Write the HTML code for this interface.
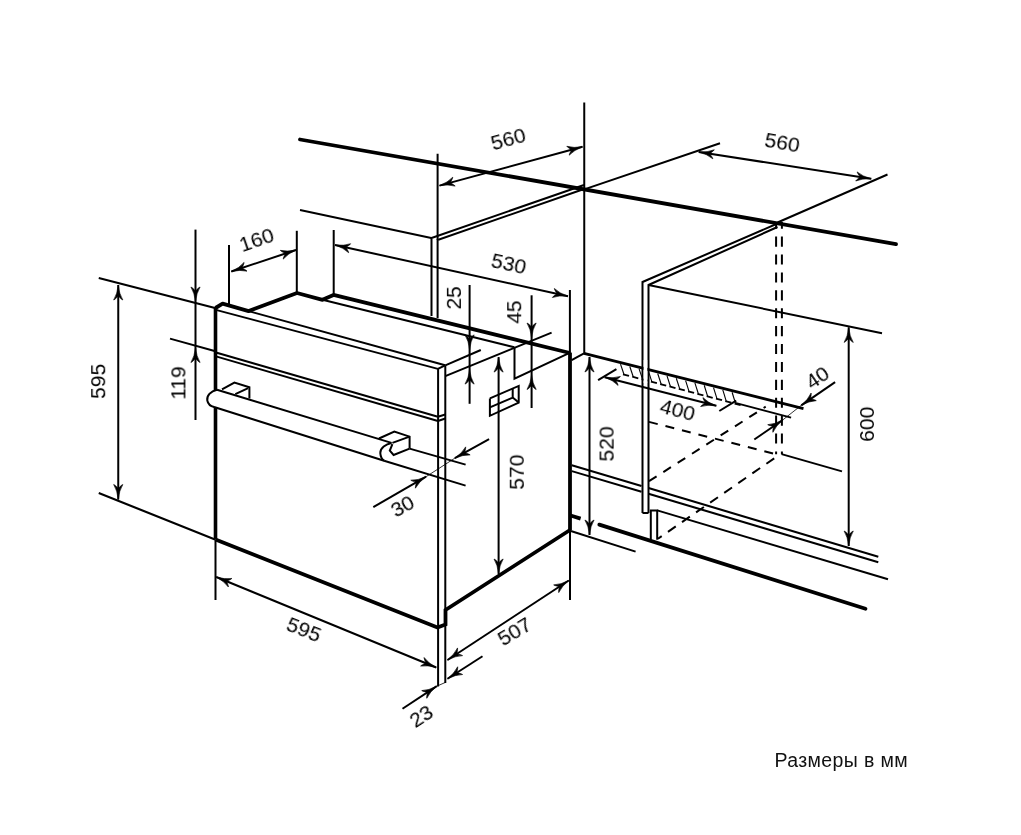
<!DOCTYPE html>
<html><head><meta charset="utf-8"><style>
html,body{margin:0;padding:0;background:#fff;}
svg{display:block;}
text{font-family:"Liberation Sans",sans-serif;fill:#000;stroke:none;will-change:transform;}
</style></head><body>
<svg width="1021" height="835" viewBox="0 0 1021 835">
<rect width="1021" height="835" fill="#fff"/>
<g stroke="#000" stroke-linecap="butt">
<line x1="300.00" y1="139.50" x2="896.00" y2="244.20" stroke-width="3.8" stroke-linecap="round"/>
<line x1="584.25" y1="102.50" x2="584.25" y2="353.40" stroke-width="2.0" />
<line x1="300.00" y1="210.00" x2="431.25" y2="238.00" stroke-width="2.0" />
<polyline points="431.50,316.00 431.50,238.00 584.00,185.00" fill="none" stroke-width="2.0" />
<polyline points="437.60,318.00 437.60,240.00 584.00,189.00" fill="none" stroke-width="2.0" />
<line x1="437.60" y1="153.75" x2="437.60" y2="240.00" stroke-width="2.0" />
<line x1="439.50" y1="185.60" x2="582.50" y2="146.80" stroke-width="2.0" />
<path d="M0,0 Q-9,-0.9 -15.0,-4.6 L-14.4,-3.4999999999999996 Q-12.5,-1.2 -11,0 Q-12.5,1.2 -14.4,3.4999999999999996 L-15.0,4.6 Q-9,0.9 0,0 Z" transform="translate(439.50,185.60) rotate(164.82)" fill="#000" stroke="#000" stroke-width="0.6"/>
<path d="M0,0 Q-9,-0.9 -15.0,-4.6 L-14.4,-3.4999999999999996 Q-12.5,-1.2 -11,0 Q-12.5,1.2 -14.4,3.4999999999999996 L-15.0,4.6 Q-9,0.9 0,0 Z" transform="translate(582.50,146.80) rotate(-15.18)" fill="#000" stroke="#000" stroke-width="0.6"/>
<text x="0" y="0" transform="translate(508.20,139.10) rotate(-15.30) scale(1.03,1)" font-size="20.5" text-anchor="middle" dominant-baseline="central">560</text>
<line x1="584.25" y1="189.40" x2="720.00" y2="143.25" stroke-width="2.0" />
<line x1="698.75" y1="152.00" x2="871.25" y2="178.75" stroke-width="2.0" />
<path d="M0,0 Q-9,-0.9 -15.0,-4.6 L-14.4,-3.4999999999999996 Q-12.5,-1.2 -11,0 Q-12.5,1.2 -14.4,3.4999999999999996 L-15.0,4.6 Q-9,0.9 0,0 Z" transform="translate(698.75,152.00) rotate(-171.19)" fill="#000" stroke="#000" stroke-width="0.6"/>
<path d="M0,0 Q-9,-0.9 -15.0,-4.6 L-14.4,-3.4999999999999996 Q-12.5,-1.2 -11,0 Q-12.5,1.2 -14.4,3.4999999999999996 L-15.0,4.6 Q-9,0.9 0,0 Z" transform="translate(871.25,178.75) rotate(8.81)" fill="#000" stroke="#000" stroke-width="0.6"/>
<text x="0" y="0" transform="translate(782.20,142.60) rotate(10.00) scale(1.03,1)" font-size="20.5" text-anchor="middle" dominant-baseline="central">560</text>
<polyline points="642.50,513.00 642.50,282.00 777.50,223.50" fill="none" stroke-width="2.0" />
<polyline points="648.50,513.00 648.50,285.00 777.50,227.00" fill="none" stroke-width="2.0" />
<line x1="642.50" y1="513.00" x2="648.50" y2="513.00" stroke-width="2.0" />
<line x1="777.50" y1="222.50" x2="887.50" y2="174.50" stroke-width="2.0" />
<line x1="648.50" y1="285.00" x2="882.00" y2="333.20" stroke-width="2.0" />
<line x1="776.10" y1="222.00" x2="776.10" y2="454.30" stroke-width="2.0" stroke-dasharray="10.1 7.8" stroke-dashoffset="3.3"/>
<line x1="781.90" y1="222.00" x2="781.90" y2="454.30" stroke-width="2.0" stroke-dasharray="10.1 7.8" stroke-dashoffset="3.3"/>
<polyline points="650.80,539.80 650.80,510.40 657.20,510.40 657.20,539.80" fill="none" stroke-width="2.0" />
<line x1="215.50" y1="307.00" x2="215.50" y2="539.50" stroke-width="3.6" />
<polyline points="215.50,308.00 222.60,303.70 248.60,311.10 297.00,293.00 322.50,299.80 333.50,294.90 570.00,353.00" fill="none" stroke-width="3.8" stroke-linejoin="round"/>
<line x1="229.00" y1="245.00" x2="229.00" y2="305.70" stroke-width="2.0" />
<line x1="296.80" y1="230.80" x2="296.80" y2="293.00" stroke-width="2.0" />
<line x1="333.70" y1="230.00" x2="333.70" y2="294.50" stroke-width="2.0" />
<line x1="231.30" y1="271.50" x2="296.00" y2="250.00" stroke-width="2.0" />
<path d="M0,0 Q-9,-0.9 -15.0,-4.6 L-14.4,-3.4999999999999996 Q-12.5,-1.2 -11,0 Q-12.5,1.2 -14.4,3.4999999999999996 L-15.0,4.6 Q-9,0.9 0,0 Z" transform="translate(231.30,271.50) rotate(161.62)" fill="#000" stroke="#000" stroke-width="0.6"/>
<path d="M0,0 Q-9,-0.9 -15.0,-4.6 L-14.4,-3.4999999999999996 Q-12.5,-1.2 -11,0 Q-12.5,1.2 -14.4,3.4999999999999996 L-15.0,4.6 Q-9,0.9 0,0 Z" transform="translate(296.00,250.00) rotate(-18.38)" fill="#000" stroke="#000" stroke-width="0.6"/>
<text x="0" y="0" transform="translate(256.50,239.90) rotate(-19.00) scale(1.03,1)" font-size="20.5" text-anchor="middle" dominant-baseline="central">160</text>
<line x1="335.00" y1="245.00" x2="568.00" y2="296.20" stroke-width="2.0" />
<path d="M0,0 Q-9,-0.9 -15.0,-4.6 L-14.4,-3.4999999999999996 Q-12.5,-1.2 -11,0 Q-12.5,1.2 -14.4,3.4999999999999996 L-15.0,4.6 Q-9,0.9 0,0 Z" transform="translate(335.00,245.00) rotate(-167.61)" fill="#000" stroke="#000" stroke-width="0.6"/>
<path d="M0,0 Q-9,-0.9 -15.0,-4.6 L-14.4,-3.4999999999999996 Q-12.5,-1.2 -11,0 Q-12.5,1.2 -14.4,3.4999999999999996 L-15.0,4.6 Q-9,0.9 0,0 Z" transform="translate(568.00,296.20) rotate(12.39)" fill="#000" stroke="#000" stroke-width="0.6"/>
<line x1="569.90" y1="290.00" x2="569.90" y2="353.00" stroke-width="2.0" />
<text x="0" y="0" transform="translate(508.75,263.75) rotate(12.40) scale(1.03,1)" font-size="20.5" text-anchor="middle" dominant-baseline="central">530</text>
<line x1="248.60" y1="311.10" x2="445.10" y2="365.30" stroke-width="2.0" />
<line x1="216.80" y1="310.10" x2="437.90" y2="368.90" stroke-width="2.0" />
<line x1="437.90" y1="368.90" x2="445.10" y2="365.30" stroke-width="2.0" />
<line x1="216.80" y1="352.70" x2="437.90" y2="416.80" stroke-width="2.0" />
<line x1="216.80" y1="356.60" x2="437.90" y2="421.00" stroke-width="2.0" />
<line x1="437.90" y1="416.80" x2="445.30" y2="414.50" stroke-width="2.0" />
<line x1="437.90" y1="421.00" x2="445.30" y2="418.50" stroke-width="2.0" />
<line x1="438.10" y1="368.90" x2="438.10" y2="686.50" stroke-width="2.0" />
<line x1="445.30" y1="365.30" x2="445.30" y2="683.00" stroke-width="2.0" />
<line x1="322.50" y1="299.80" x2="514.30" y2="347.30" stroke-width="2.0" />
<polyline points="514.50,347.00 514.50,378.70 569.60,352.90" fill="none" stroke-width="2.0" />
<line x1="445.30" y1="376.10" x2="551.60" y2="332.60" stroke-width="2.0" />
<line x1="445.30" y1="365.30" x2="480.80" y2="350.00" stroke-width="2.0" />
<line x1="570.00" y1="352.60" x2="570.00" y2="530.00" stroke-width="3.8" />
<line x1="570.00" y1="530.00" x2="570.00" y2="600.00" stroke-width="2.0" />
<polyline points="215.50,539.50 437.50,627.50 445.50,624.50 445.50,610.00 570.00,530.00" fill="none" stroke-width="3.8" stroke-linejoin="miter"/>
<line x1="98.75" y1="278.00" x2="215.00" y2="308.00" stroke-width="2.0" />
<line x1="98.75" y1="493.00" x2="215.00" y2="539.50" stroke-width="2.0" />
<line x1="118.25" y1="285.00" x2="118.25" y2="499.50" stroke-width="2.0" />
<path d="M0,0 Q-9,-0.9 -15.0,-4.6 L-14.4,-3.4999999999999996 Q-12.5,-1.2 -11,0 Q-12.5,1.2 -14.4,3.4999999999999996 L-15.0,4.6 Q-9,0.9 0,0 Z" transform="translate(118.25,285.00) rotate(-90.00)" fill="#000" stroke="#000" stroke-width="0.6"/>
<path d="M0,0 Q-9,-0.9 -15.0,-4.6 L-14.4,-3.4999999999999996 Q-12.5,-1.2 -11,0 Q-12.5,1.2 -14.4,3.4999999999999996 L-15.0,4.6 Q-9,0.9 0,0 Z" transform="translate(118.25,499.50) rotate(90.00)" fill="#000" stroke="#000" stroke-width="0.6"/>
<text x="0" y="0" transform="translate(98.20,381.40) rotate(-90.00) scale(1.03,1)" font-size="20.5" text-anchor="middle" dominant-baseline="central">595</text>
<line x1="195.50" y1="229.60" x2="195.50" y2="420.00" stroke-width="2.0" />
<path d="M0,0 Q-9,-0.9 -15.0,-4.6 L-14.4,-3.4999999999999996 Q-12.5,-1.2 -11,0 Q-12.5,1.2 -14.4,3.4999999999999996 L-15.0,4.6 Q-9,0.9 0,0 Z" transform="translate(195.50,302.00) rotate(90.00)" fill="#000" stroke="#000" stroke-width="0.6"/>
<path d="M0,0 Q-9,-0.9 -15.0,-4.6 L-14.4,-3.4999999999999996 Q-12.5,-1.2 -11,0 Q-12.5,1.2 -14.4,3.4999999999999996 L-15.0,4.6 Q-9,0.9 0,0 Z" transform="translate(195.50,347.50) rotate(-90.00)" fill="#000" stroke="#000" stroke-width="0.6"/>
<line x1="170.00" y1="338.60" x2="215.50" y2="351.20" stroke-width="2.0" />
<text x="0" y="0" transform="translate(178.40,383.00) rotate(-90.00) scale(1.03,1)" font-size="20.5" text-anchor="middle" dominant-baseline="central">119</text>
<line x1="215.50" y1="539.50" x2="215.50" y2="600.00" stroke-width="2.0" />
<line x1="216.25" y1="577.00" x2="436.25" y2="667.50" stroke-width="2.0" />
<path d="M0,0 Q-9,-0.9 -15.0,-4.6 L-14.4,-3.4999999999999996 Q-12.5,-1.2 -11,0 Q-12.5,1.2 -14.4,3.4999999999999996 L-15.0,4.6 Q-9,0.9 0,0 Z" transform="translate(216.25,577.00) rotate(-157.64)" fill="#000" stroke="#000" stroke-width="0.6"/>
<path d="M0,0 Q-9,-0.9 -15.0,-4.6 L-14.4,-3.4999999999999996 Q-12.5,-1.2 -11,0 Q-12.5,1.2 -14.4,3.4999999999999996 L-15.0,4.6 Q-9,0.9 0,0 Z" transform="translate(436.25,667.50) rotate(22.36)" fill="#000" stroke="#000" stroke-width="0.6"/>
<text x="0" y="0" transform="translate(303.90,629.60) rotate(21.60) scale(1.03,1)" font-size="20.5" text-anchor="middle" dominant-baseline="central">595</text>
<line x1="447.50" y1="660.00" x2="568.75" y2="580.50" stroke-width="2.0" />
<path d="M0,0 Q-9,-0.9 -15.0,-4.6 L-14.4,-3.4999999999999996 Q-12.5,-1.2 -11,0 Q-12.5,1.2 -14.4,3.4999999999999996 L-15.0,4.6 Q-9,0.9 0,0 Z" transform="translate(447.50,660.00) rotate(146.75)" fill="#000" stroke="#000" stroke-width="0.6"/>
<path d="M0,0 Q-9,-0.9 -15.0,-4.6 L-14.4,-3.4999999999999996 Q-12.5,-1.2 -11,0 Q-12.5,1.2 -14.4,3.4999999999999996 L-15.0,4.6 Q-9,0.9 0,0 Z" transform="translate(568.75,580.50) rotate(-33.25)" fill="#000" stroke="#000" stroke-width="0.6"/>
<text x="0" y="0" transform="translate(514.50,631.60) rotate(-31.00) scale(1.03,1)" font-size="20.5" text-anchor="middle" dominant-baseline="central">507</text>
<line x1="402.50" y1="708.75" x2="436.80" y2="686.20" stroke-width="2.0" />
<path d="M0,0 Q-9,-0.9 -15.0,-4.6 L-14.4,-3.4999999999999996 Q-12.5,-1.2 -11,0 Q-12.5,1.2 -14.4,3.4999999999999996 L-15.0,4.6 Q-9,0.9 0,0 Z" transform="translate(436.80,686.20) rotate(-33.32)" fill="#000" stroke="#000" stroke-width="0.6"/>
<line x1="436.80" y1="686.20" x2="445.90" y2="682.20" stroke-width="0.8" />
<line x1="482.50" y1="656.25" x2="447.50" y2="678.75" stroke-width="2.0" />
<path d="M0,0 Q-9,-0.9 -15.0,-4.6 L-14.4,-3.4999999999999996 Q-12.5,-1.2 -11,0 Q-12.5,1.2 -14.4,3.4999999999999996 L-15.0,4.6 Q-9,0.9 0,0 Z" transform="translate(447.50,678.75) rotate(147.26)" fill="#000" stroke="#000" stroke-width="0.6"/>
<text x="0" y="0" transform="translate(421.25,716.25) rotate(-33.00) scale(1.03,1)" font-size="20.5" text-anchor="middle" dominant-baseline="central">23</text>
<line x1="469.60" y1="285.00" x2="469.60" y2="403.80" stroke-width="2.0" />
<path d="M0,0 Q-9,-0.9 -15.0,-4.6 L-14.4,-3.4999999999999996 Q-12.5,-1.2 -11,0 Q-12.5,1.2 -14.4,3.4999999999999996 L-15.0,4.6 Q-9,0.9 0,0 Z" transform="translate(469.60,349.90) rotate(90.00)" fill="#000" stroke="#000" stroke-width="0.6"/>
<path d="M0,0 Q-9,-0.9 -15.0,-4.6 L-14.4,-3.4999999999999996 Q-12.5,-1.2 -11,0 Q-12.5,1.2 -14.4,3.4999999999999996 L-15.0,4.6 Q-9,0.9 0,0 Z" transform="translate(469.60,369.10) rotate(-90.00)" fill="#000" stroke="#000" stroke-width="0.6"/>
<text x="0" y="0" transform="translate(453.90,297.90) rotate(-90.00) scale(1.03,1)" font-size="20.5" text-anchor="middle" dominant-baseline="central">25</text>
<line x1="531.60" y1="295.30" x2="531.60" y2="408.00" stroke-width="2.0" />
<path d="M0,0 Q-9,-0.9 -15.0,-4.6 L-14.4,-3.4999999999999996 Q-12.5,-1.2 -11,0 Q-12.5,1.2 -14.4,3.4999999999999996 L-15.0,4.6 Q-9,0.9 0,0 Z" transform="translate(531.60,338.00) rotate(90.00)" fill="#000" stroke="#000" stroke-width="0.6"/>
<path d="M0,0 Q-9,-0.9 -15.0,-4.6 L-14.4,-3.4999999999999996 Q-12.5,-1.2 -11,0 Q-12.5,1.2 -14.4,3.4999999999999996 L-15.0,4.6 Q-9,0.9 0,0 Z" transform="translate(531.60,374.50) rotate(-90.00)" fill="#000" stroke="#000" stroke-width="0.6"/>
<text x="0" y="0" transform="translate(514.20,312.10) rotate(-90.00) scale(1.03,1)" font-size="20.5" text-anchor="middle" dominant-baseline="central">45</text>
<line x1="498.60" y1="357.10" x2="498.60" y2="574.00" stroke-width="2.0" />
<path d="M0,0 Q-9,-0.9 -15.0,-4.6 L-14.4,-3.4999999999999996 Q-12.5,-1.2 -11,0 Q-12.5,1.2 -14.4,3.4999999999999996 L-15.0,4.6 Q-9,0.9 0,0 Z" transform="translate(498.60,357.10) rotate(-90.00)" fill="#000" stroke="#000" stroke-width="0.6"/>
<path d="M0,0 Q-9,-0.9 -15.0,-4.6 L-14.4,-3.4999999999999996 Q-12.5,-1.2 -11,0 Q-12.5,1.2 -14.4,3.4999999999999996 L-15.0,4.6 Q-9,0.9 0,0 Z" transform="translate(498.60,574.00) rotate(90.00)" fill="#000" stroke="#000" stroke-width="0.6"/>
<text x="0" y="0" transform="translate(516.80,472.20) rotate(-90.00) scale(1.03,1)" font-size="20.5" text-anchor="middle" dominant-baseline="central">570</text>
<polyline points="489.90,398.40 518.70,385.90 518.70,402.60 489.90,415.80 489.90,398.40" fill="none" stroke-width="2.0" />
<polyline points="489.90,407.40 512.70,397.60 512.70,388.80" fill="none" stroke-width="2.0" />
<line x1="512.70" y1="397.60" x2="518.70" y2="402.60" stroke-width="2.0" />
<path d="M217,389.7 L391.5,442.9 L384.1,460.7 L214.1,407 C211,406.3 208,404 207.3,400.5 C206.5,396 210.5,391 217,389.7 Z" fill="#fff" stroke="none"/>
<path d="M217,389.7 L391.5,442.9 M214.1,407 L384.1,460.7 M217,389.7 C210.5,391 206.5,396 207.3,400.5 C208,404 211,406.3 214.1,407" fill="none" stroke-width="2.0"/>
<polyline points="222.00,389.40 234.40,382.60 249.40,387.30 249.40,398.50" fill="none" stroke-width="2.0" />
<line x1="235.30" y1="394.10" x2="248.20" y2="388.20" stroke-width="2.0" />
<polyline points="379.00,438.50 394.30,431.50 409.60,436.60 409.60,448.60" fill="none" stroke-width="2.0" />
<line x1="392.40" y1="442.90" x2="409.60" y2="436.60" stroke-width="2.0" />
<path d="M391.5,442.9 C386,444 380,448 380.3,453.1 C380.6,457 382,459.5 384.1,460.7 M392.4,444.2 L389.8,450.6 L393.6,455 L409.6,448.6" fill="none" stroke-width="2.0"/>
<line x1="409.60" y1="448.60" x2="465.60" y2="464.60" stroke-width="2.0" />
<line x1="384.10" y1="460.70" x2="465.60" y2="485.60" stroke-width="2.0" />
<line x1="489.10" y1="439.10" x2="454.80" y2="458.20" stroke-width="2.0" />
<path d="M0,0 Q-9,-0.9 -15.0,-4.6 L-14.4,-3.4999999999999996 Q-12.5,-1.2 -11,0 Q-12.5,1.2 -14.4,3.4999999999999996 L-15.0,4.6 Q-9,0.9 0,0 Z" transform="translate(454.80,458.20) rotate(150.89)" fill="#000" stroke="#000" stroke-width="0.6"/>
<line x1="373.30" y1="507.20" x2="426.10" y2="476.70" stroke-width="2.0" />
<path d="M0,0 Q-9,-0.9 -15.0,-4.6 L-14.4,-3.4999999999999996 Q-12.5,-1.2 -11,0 Q-12.5,1.2 -14.4,3.4999999999999996 L-15.0,4.6 Q-9,0.9 0,0 Z" transform="translate(426.10,476.70) rotate(-30.01)" fill="#000" stroke="#000" stroke-width="0.6"/>
<line x1="426.10" y1="476.70" x2="454.80" y2="458.20" stroke-width="0.8" />
<text x="0" y="0" transform="translate(402.50,506.25) rotate(-29.00) scale(1.03,1)" font-size="20.5" text-anchor="middle" dominant-baseline="central">30</text>
<line x1="589.50" y1="357.00" x2="589.50" y2="535.00" stroke-width="2.0" />
<path d="M0,0 Q-9,-0.9 -15.0,-4.6 L-14.4,-3.4999999999999996 Q-12.5,-1.2 -11,0 Q-12.5,1.2 -14.4,3.4999999999999996 L-15.0,4.6 Q-9,0.9 0,0 Z" transform="translate(589.50,357.00) rotate(-90.00)" fill="#000" stroke="#000" stroke-width="0.6"/>
<path d="M0,0 Q-9,-0.9 -15.0,-4.6 L-14.4,-3.4999999999999996 Q-12.5,-1.2 -11,0 Q-12.5,1.2 -14.4,3.4999999999999996 L-15.0,4.6 Q-9,0.9 0,0 Z" transform="translate(589.50,535.00) rotate(90.00)" fill="#000" stroke="#000" stroke-width="0.6"/>
<text x="0" y="0" transform="translate(606.60,444.00) rotate(-90.00) scale(1.03,1)" font-size="20.5" text-anchor="middle" dominant-baseline="central">520</text>
<polyline points="571.60,360.20 584.00,353.40" fill="none" stroke-width="2.0" />
<line x1="584.00" y1="353.40" x2="803.50" y2="408.60" stroke-width="2.8" />
<line x1="620.50" y1="364.18" x2="624.00" y2="374.54" stroke-width="1.1" />
<line x1="623.00" y1="374.28" x2="629.00" y2="375.85" stroke-width="1.8" />
<line x1="629.80" y1="366.52" x2="633.30" y2="376.98" stroke-width="1.1" />
<line x1="632.30" y1="376.72" x2="638.30" y2="378.29" stroke-width="1.8" />
<line x1="639.10" y1="368.86" x2="642.60" y2="379.41" stroke-width="1.1" />
<line x1="641.60" y1="379.15" x2="647.60" y2="380.72" stroke-width="1.8" />
<line x1="648.40" y1="371.20" x2="651.90" y2="381.85" stroke-width="1.1" />
<line x1="650.90" y1="381.59" x2="656.90" y2="383.16" stroke-width="1.8" />
<line x1="657.70" y1="373.54" x2="661.20" y2="384.29" stroke-width="1.1" />
<line x1="660.20" y1="384.02" x2="666.20" y2="385.60" stroke-width="1.8" />
<line x1="667.00" y1="375.87" x2="670.50" y2="386.72" stroke-width="1.1" />
<line x1="669.50" y1="386.46" x2="675.50" y2="388.03" stroke-width="1.8" />
<line x1="676.30" y1="378.21" x2="679.80" y2="389.16" stroke-width="1.1" />
<line x1="678.80" y1="388.90" x2="684.80" y2="390.47" stroke-width="1.8" />
<line x1="685.60" y1="380.55" x2="689.10" y2="391.60" stroke-width="1.1" />
<line x1="688.10" y1="391.33" x2="694.10" y2="392.91" stroke-width="1.8" />
<line x1="694.90" y1="382.89" x2="698.40" y2="394.03" stroke-width="1.1" />
<line x1="697.40" y1="393.77" x2="703.40" y2="395.34" stroke-width="1.8" />
<line x1="704.20" y1="385.23" x2="707.70" y2="396.47" stroke-width="1.1" />
<line x1="706.70" y1="396.21" x2="712.70" y2="397.78" stroke-width="1.8" />
<line x1="713.50" y1="387.57" x2="717.00" y2="398.91" stroke-width="1.1" />
<line x1="716.00" y1="398.64" x2="722.00" y2="400.22" stroke-width="1.8" />
<line x1="722.80" y1="389.91" x2="726.30" y2="401.34" stroke-width="1.1" />
<line x1="725.30" y1="401.08" x2="731.30" y2="402.65" stroke-width="1.8" />
<line x1="732.10" y1="392.25" x2="735.60" y2="403.78" stroke-width="1.1" />
<line x1="734.60" y1="403.52" x2="740.60" y2="405.09" stroke-width="1.8" />
<line x1="735.20" y1="402.90" x2="791.10" y2="417.60" stroke-width="2.0" />
<line x1="645.45" y1="360.00" x2="645.45" y2="383.00" stroke-width="3.6" stroke="#fff"/>
<line x1="570.80" y1="531.00" x2="635.60" y2="551.60" stroke-width="2.0" />
<line x1="571.80" y1="465.20" x2="641.50" y2="486.00" stroke-width="2.0" />
<line x1="571.80" y1="471.10" x2="641.50" y2="491.80" stroke-width="2.0" />
<line x1="648.50" y1="488.00" x2="878.30" y2="556.80" stroke-width="2.0" />
<line x1="648.50" y1="493.80" x2="878.30" y2="562.30" stroke-width="2.0" />
<line x1="657.20" y1="510.40" x2="888.00" y2="579.30" stroke-width="2.0" />
<line x1="569.80" y1="515.30" x2="580.60" y2="518.60" stroke-width="3.8" />
<line x1="599.30" y1="524.60" x2="865.50" y2="608.70" stroke-width="3.8" stroke-linecap="round"/>
<line x1="781.60" y1="454.10" x2="842.00" y2="471.40" stroke-width="2.0" />
<line x1="848.70" y1="327.40" x2="848.70" y2="546.00" stroke-width="2.0" />
<path d="M0,0 Q-9,-0.9 -15.0,-4.6 L-14.4,-3.4999999999999996 Q-12.5,-1.2 -11,0 Q-12.5,1.2 -14.4,3.4999999999999996 L-15.0,4.6 Q-9,0.9 0,0 Z" transform="translate(848.70,327.40) rotate(-90.00)" fill="#000" stroke="#000" stroke-width="0.6"/>
<path d="M0,0 Q-9,-0.9 -15.0,-4.6 L-14.4,-3.4999999999999996 Q-12.5,-1.2 -11,0 Q-12.5,1.2 -14.4,3.4999999999999996 L-15.0,4.6 Q-9,0.9 0,0 Z" transform="translate(848.70,546.00) rotate(90.00)" fill="#000" stroke="#000" stroke-width="0.6"/>
<text x="0" y="0" transform="translate(867.00,424.30) rotate(-90.00) scale(1.03,1)" font-size="20.5" text-anchor="middle" dominant-baseline="central">600</text>
<line x1="649.00" y1="421.90" x2="776.50" y2="454.30" stroke-width="2.0" stroke-dasharray="9 8"/>
<line x1="649.00" y1="481.20" x2="765.70" y2="406.70" stroke-width="2.0" stroke-dasharray="9 8"/>
<line x1="658.00" y1="538.70" x2="780.00" y2="454.30" stroke-width="2.0" stroke-dasharray="9.5 7.6" stroke-dashoffset="5"/>
<line x1="604.70" y1="377.20" x2="716.30" y2="405.80" stroke-width="2.0" />
<path d="M0,0 Q-9,-0.9 -15.0,-4.6 L-14.4,-3.4999999999999996 Q-12.5,-1.2 -11,0 Q-12.5,1.2 -14.4,3.4999999999999996 L-15.0,4.6 Q-9,0.9 0,0 Z" transform="translate(604.70,377.20) rotate(-165.63)" fill="#000" stroke="#000" stroke-width="0.6"/>
<path d="M0,0 Q-9,-0.9 -15.0,-4.6 L-14.4,-3.4999999999999996 Q-12.5,-1.2 -11,0 Q-12.5,1.2 -14.4,3.4999999999999996 L-15.0,4.6 Q-9,0.9 0,0 Z" transform="translate(716.30,405.80) rotate(14.37)" fill="#000" stroke="#000" stroke-width="0.6"/>
<text x="0" y="0" transform="translate(677.60,410.00) rotate(14.70) scale(1.03,1)" font-size="20.5" text-anchor="middle" dominant-baseline="central">400</text>
<line x1="598.10" y1="380.10" x2="616.40" y2="369.10" stroke-width="2.0" />
<line x1="719.30" y1="411.00" x2="736.20" y2="400.70" stroke-width="2.0" />
<line x1="835.10" y1="382.20" x2="801.30" y2="405.30" stroke-width="2.0" />
<path d="M0,0 Q-9,-0.9 -15.0,-4.6 L-14.4,-3.4999999999999996 Q-12.5,-1.2 -11,0 Q-12.5,1.2 -14.4,3.4999999999999996 L-15.0,4.6 Q-9,0.9 0,0 Z" transform="translate(801.30,405.30) rotate(145.65)" fill="#000" stroke="#000" stroke-width="0.6"/>
<line x1="754.30" y1="439.50" x2="782.70" y2="420.00" stroke-width="2.0" />
<path d="M0,0 Q-9,-0.9 -15.0,-4.6 L-14.4,-3.4999999999999996 Q-12.5,-1.2 -11,0 Q-12.5,1.2 -14.4,3.4999999999999996 L-15.0,4.6 Q-9,0.9 0,0 Z" transform="translate(782.70,420.00) rotate(-34.47)" fill="#000" stroke="#000" stroke-width="0.6"/>
<line x1="782.70" y1="420.00" x2="801.30" y2="405.30" stroke-width="0.8" />
<text x="0" y="0" transform="translate(817.40,377.60) rotate(-34.00) scale(1.03,1)" font-size="20.5" text-anchor="middle" dominant-baseline="central">40</text>
<text x="774.5" y="767" font-size="19.5" letter-spacing="0.38" style="fill:#111">Размеры в мм</text>
</g>
</svg>
</body></html>
